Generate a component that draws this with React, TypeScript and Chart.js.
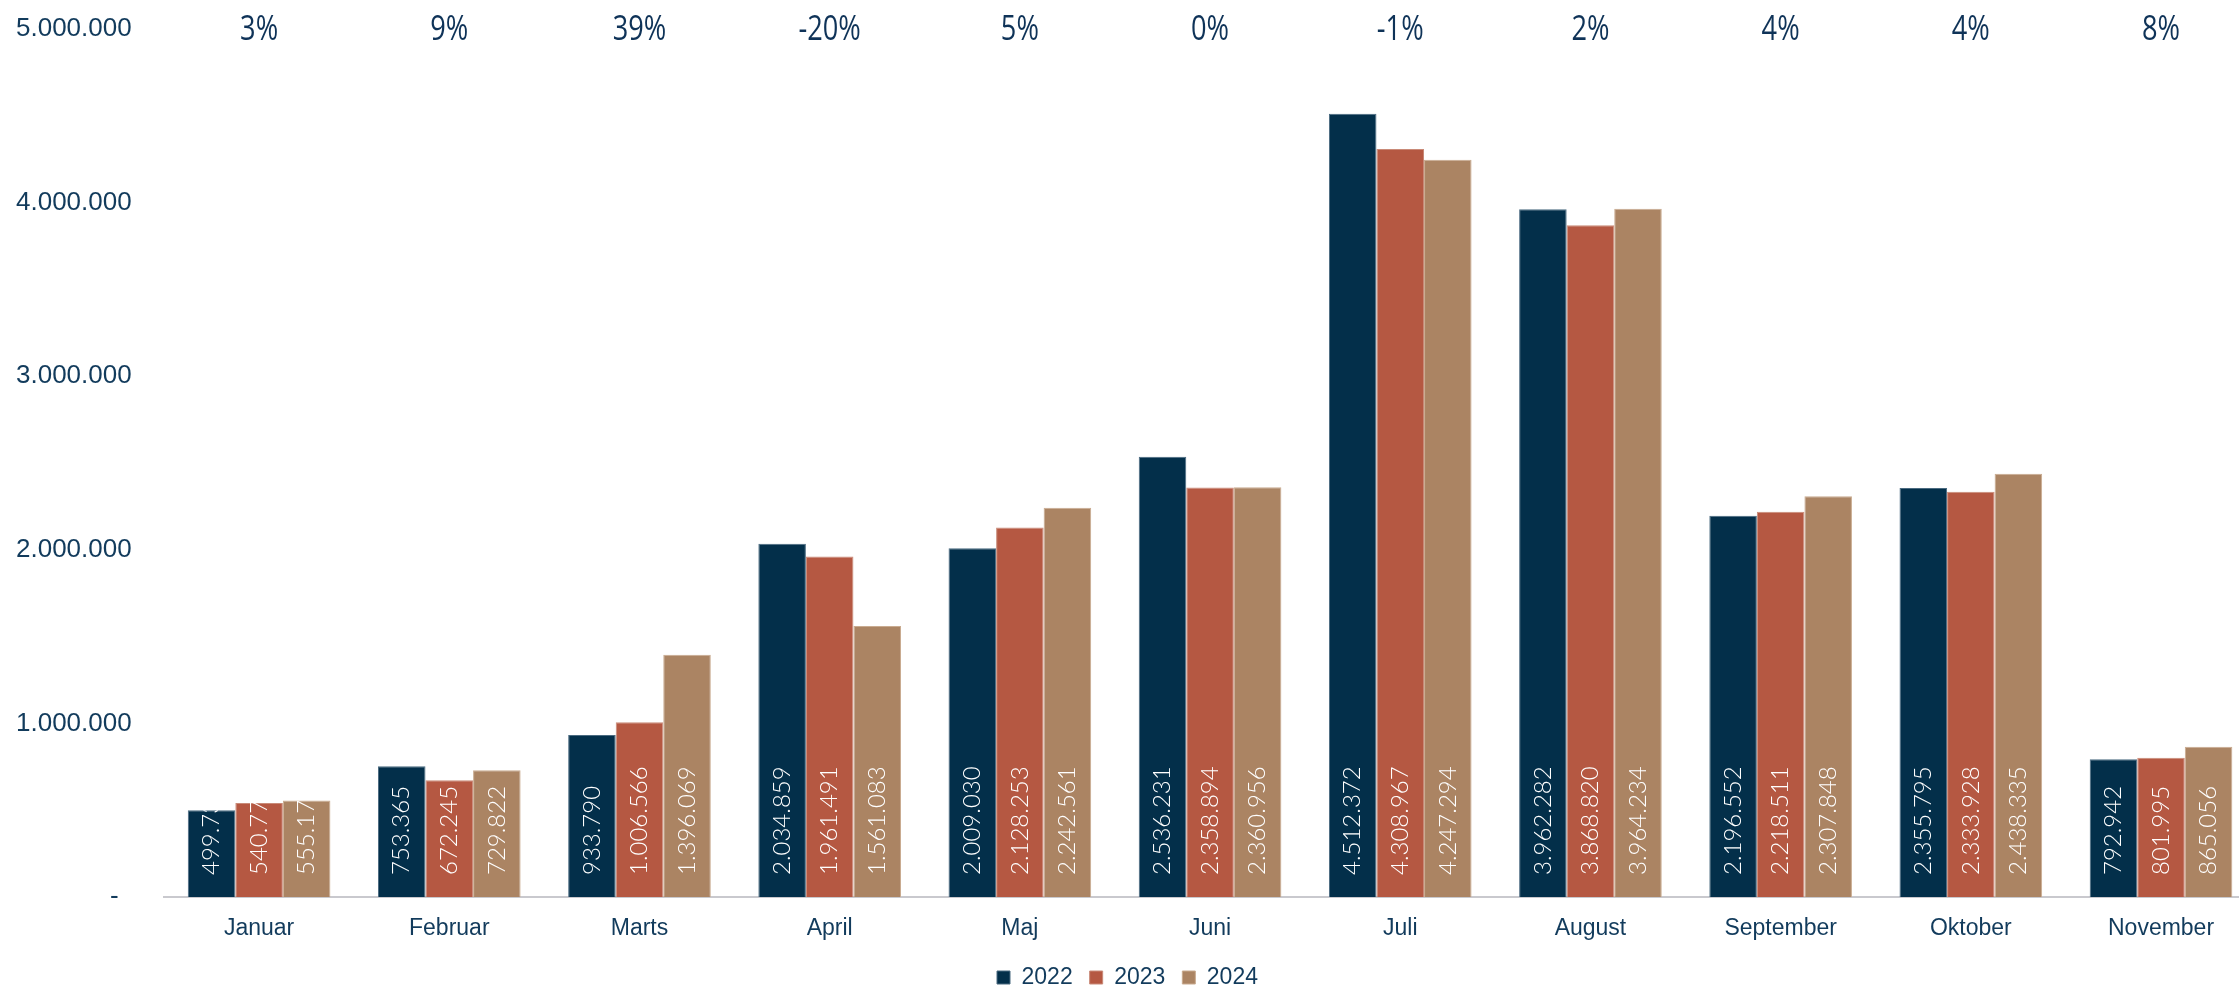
import React, { useEffect, useRef } from 'react';
import { Chart, registerables } from 'chart.js';

Chart.register(...registerables);

const MONTHS = ['Januar', 'Februar', 'Marts', 'April', 'Maj', 'Juni', 'Juli', 'August', 'September', 'Oktober', 'November'];
const YEARS = ['2022', '2023', '2024'];
const SERIES_2022 = [499735, 753365, 933790, 2034859, 2009030, 2536231, 4512372, 3962282, 2196552, 2355795, 792942];
const SERIES_2023 = [540772, 672245, 1006566, 1961491, 2128253, 2358894, 4308967, 3868820, 2218511, 2333928, 801995];
const SERIES_2024 = [555176, 729822, 1396069, 1561083, 2242561, 2360956, 4247294, 3964234, 2307848, 2438335, 865056];
const CHANGE_LABELS = ['3%', '9%', '39%', '-20%', '5%', '0%', '-1%', '2%', '4%', '4%', '8%'];
const Y_TICKS = [0, 1000000, 2000000, 3000000, 4000000, 5000000];

const FILLS = ['#032f4a', '#b55842', '#ab8463'];
const EDGES = ['#4a6a80', '#c98a78', '#c9ab90'];
const TEXT = '#123b5c';

const fmt = (v: number) => Math.round(v).toString().replace(/\B(?=(\d{3})+(?!\d))/g, '.');

const barLabels = {
  id: 'barLabels',
  afterDatasetsDraw(chart: any) {
    const ctx = chart.ctx;
    chart.data.datasets.forEach((ds: any, di: number) => {
      const meta = chart.getDatasetMeta(di);
      meta.data.forEach((el: any, i: number) => {
        const { x, y, base, width } = el.getProps(['x', 'y', 'base', 'width'], true);
        ctx.save();
        ctx.beginPath();
        ctx.rect(x - width / 2, y, width, base - y);
        ctx.clip();
        ctx.translate(x, base - 22);
        ctx.rotate(-Math.PI / 2);
        ctx.fillStyle = '#ffffff';
        ctx.font = '300 24px Lato, "Open Sans", sans-serif';
        ctx.textAlign = 'left';
        ctx.textBaseline = 'middle';
        ctx.fillText(fmt(ds.data[i].y), 0, 0);
        ctx.restore();
      });
    });
  },
};

const changeLabels = {
  id: 'changeLabels',
  afterDraw(chart: any) {
    const ctx = chart.ctx;
    const xs = chart.scales.x;
    ctx.save();
    ctx.fillStyle = '#0f3358';
    ctx.font = '500 34px "Open Sans", sans-serif';
    ctx.textAlign = 'center';
    ctx.textBaseline = 'middle';
    CHANGE_LABELS.forEach((t, i) => {
      const px = xs.getPixelForValue(i);
      ctx.save();
      ctx.translate(px, 30);
      ctx.scale(0.8, 1);
      ctx.fillText(t, 0, 0);
      ctx.restore();
    });
    ctx.restore();
  },
};

// Tighten the legend's box so it sits close to the bottom edge like the reference.
const legendFit = {
  id: 'legendFit',
  afterInit(chart: any) {
    const lg = chart.legend;
    if (!lg) return;
    const orig = lg.fit;
    lg.fit = function () {
      orig.call(this);
      this.height = 41;
    };
  },
};

export default function App() {
  const ref = useRef<HTMLCanvasElement>(null);
  useEffect(() => {
    if (!ref.current) return;
    const series = [SERIES_2022, SERIES_2023, SERIES_2024];
    const chart = new Chart(ref.current, {
      type: 'bar',
      data: {
        datasets: YEARS.map((yr, k) => ({
          label: yr,
          data: series[k].map((v, i) => ({ x: i, y: v })),
          backgroundColor: FILLS[k],
          borderColor: EDGES[k],
          borderWidth: 1,
          categoryPercentage: 0.75,
          barPercentage: 1,
        })),
      },
      options: {
        animation: false,
        responsive: true,
        maintainAspectRatio: false,
        layout: { padding: { left: 16, right: 0, top: 29, bottom: 0 } },
        scales: {
          x: {
            type: 'linear',
            min: -0.5,
            max: 10.41,
            offset: false,
            grid: { display: false, offset: false },
            border: { display: true, color: '#c9c9ce', width: 2 },
            afterBuildTicks: (s: any) => {
              s.ticks = MONTHS.map((_, i) => ({ value: i }));
            },
            afterFit: (s: any) => {
              s.height = 52;
            },
            ticks: {
              autoSkip: false,
              maxRotation: 0,
              padding: 10,
              color: TEXT,
              font: { family: '"Liberation Sans", Arial, sans-serif', size: 23 },
              callback: (v: any) => MONTHS[v] ?? '',
            },
          },
          y: {
            min: 0,
            max: 5000000,
            grid: { display: false },
            border: { display: false },
            afterBuildTicks: (s: any) => {
              s.ticks = Y_TICKS.map((v) => ({ value: v }));
            },
            afterFit: (s: any) => {
              s.width = 148;
            },
            ticks: {
              crossAlign: 'far',
              padding: 0,
              color: TEXT,
              font: { family: '"Liberation Sans", Arial, sans-serif', size: 26 },
              callback: (v: any) => (v === 0 ? '             -' : fmt(v)),
            },
          },
        },
        plugins: {
          legend: {
            position: 'bottom',
            labels: {
              boxWidth: 13,
              boxHeight: 13,
              padding: 17,
              color: TEXT,
              font: { family: '"Liberation Sans", Arial, sans-serif', size: 23 },
            },
          },
          tooltip: { enabled: false },
        },
      },
      plugins: [barLabels, changeLabels, legendFit],
    } as any);
    return () => chart.destroy();
  }, []);
  return (
    <div style={{ position: 'fixed', left: 0, top: 0, width: 2239, height: 990, background: '#fff' }}>
      <canvas ref={ref} />
    </div>
  );
}
